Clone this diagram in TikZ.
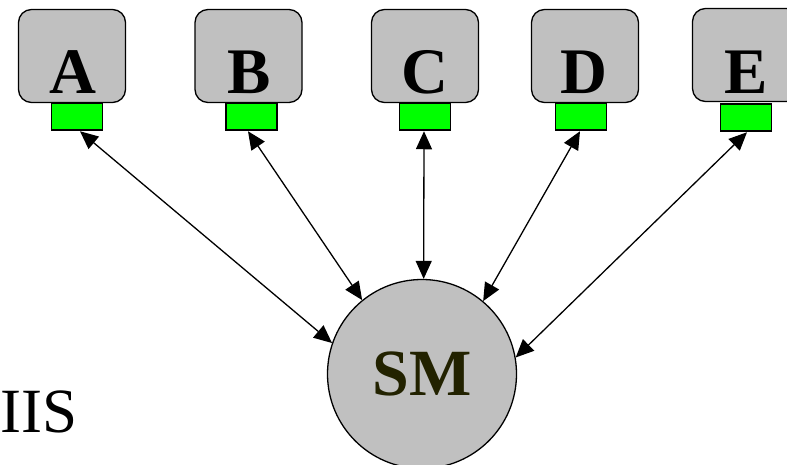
\documentclass[tikz,border=0pt]{standalone}
\usepackage{fontspec}
\setmainfont{Liberation Serif}
\usetikzlibrary{arrows.meta}
\definecolor{boxgray}{RGB}{192,192,192}
\definecolor{portgreen}{RGB}{0,255,0}
\definecolor{smtext}{RGB}{34,34,0}
\tikzset{
  box/.style={draw=black, fill=boxgray, rounded corners=13pt, line width=1.3pt,
    minimum width=107pt, minimum height=93pt, inner sep=0pt},
  port/.style={draw=black, fill=portgreen, line width=1.3pt,
    minimum width=51pt, minimum height=27pt, inner sep=0pt},
  lett/.style={font=\fontsize{65}{65}\selectfont\bfseries, inner sep=0pt, anchor=base},
  smnode/.style={circle, draw=black, fill=boxgray, line width=1.3pt,
    minimum size=189pt, inner sep=0pt},
  link/.style={line width=1.3pt, {Triangle[length=18pt,width=16pt]}-{Triangle[length=18pt,width=16pt]}}
}
\begin{document}
\begin{tikzpicture}[x=1pt,y=-1pt]
\useasboundingbox (0,0) rectangle (787,465);
\clip (0,0) rectangle (787,465);
% boxes
\node[box] (a) at (72,56) {};
\node[box] (b) at (248.5,56) {};
\node[box] (c) at (425,56) {};
\node[box] (d) at (585,56) {};
\node[box] (e) at (746,55) {};
% letters
\node[lett] (la) at (73,94) {A};
\node[lett] (lb) at (249,94) {B};
\node[lett] (lc) at (425,94) {C};
\node[lett] (ld) at (584,94) {D};
\node[lett] (le) at (746,94) {E};
% ports
\node[port] (pa) at (77,116.5) {};
\node[port] (pb) at (251.5,116.5) {};
\node[port] (pc) at (425,116.5) {};
\node[port] (pd) at (581,116.5) {};
\node[port] (pe) at (746,117.5) {};
% central node
\node[smnode, font=\fontsize{66}{66}\selectfont\bfseries, text=smtext] (sm) at (422,374) {\raisebox{-3pt}{SM}};
% side text
\node[font=\fontsize{63}{63}\selectfont, anchor=base west, inner sep=0pt] (iis) at (0.5,432) {IIS};
% connectors
\draw[link] ([xshift=3pt,yshift=-0.6pt]pa.south) -- (sm.161.7);
\draw[link] ([xshift=-3.5pt,yshift=-0.6pt]pb.south) -- (sm.129.8);
\draw[link] ([xshift=-1pt,yshift=-0.6pt]pc.south) -- (sm.89);
\draw[link] ([xshift=-1pt,yshift=-0.6pt]pd.south) -- (sm.50.1);
\draw[link] ([xshift=1pt,yshift=-0.6pt]pe.south) -- (sm.10.1);
\end{tikzpicture}
\end{document}
